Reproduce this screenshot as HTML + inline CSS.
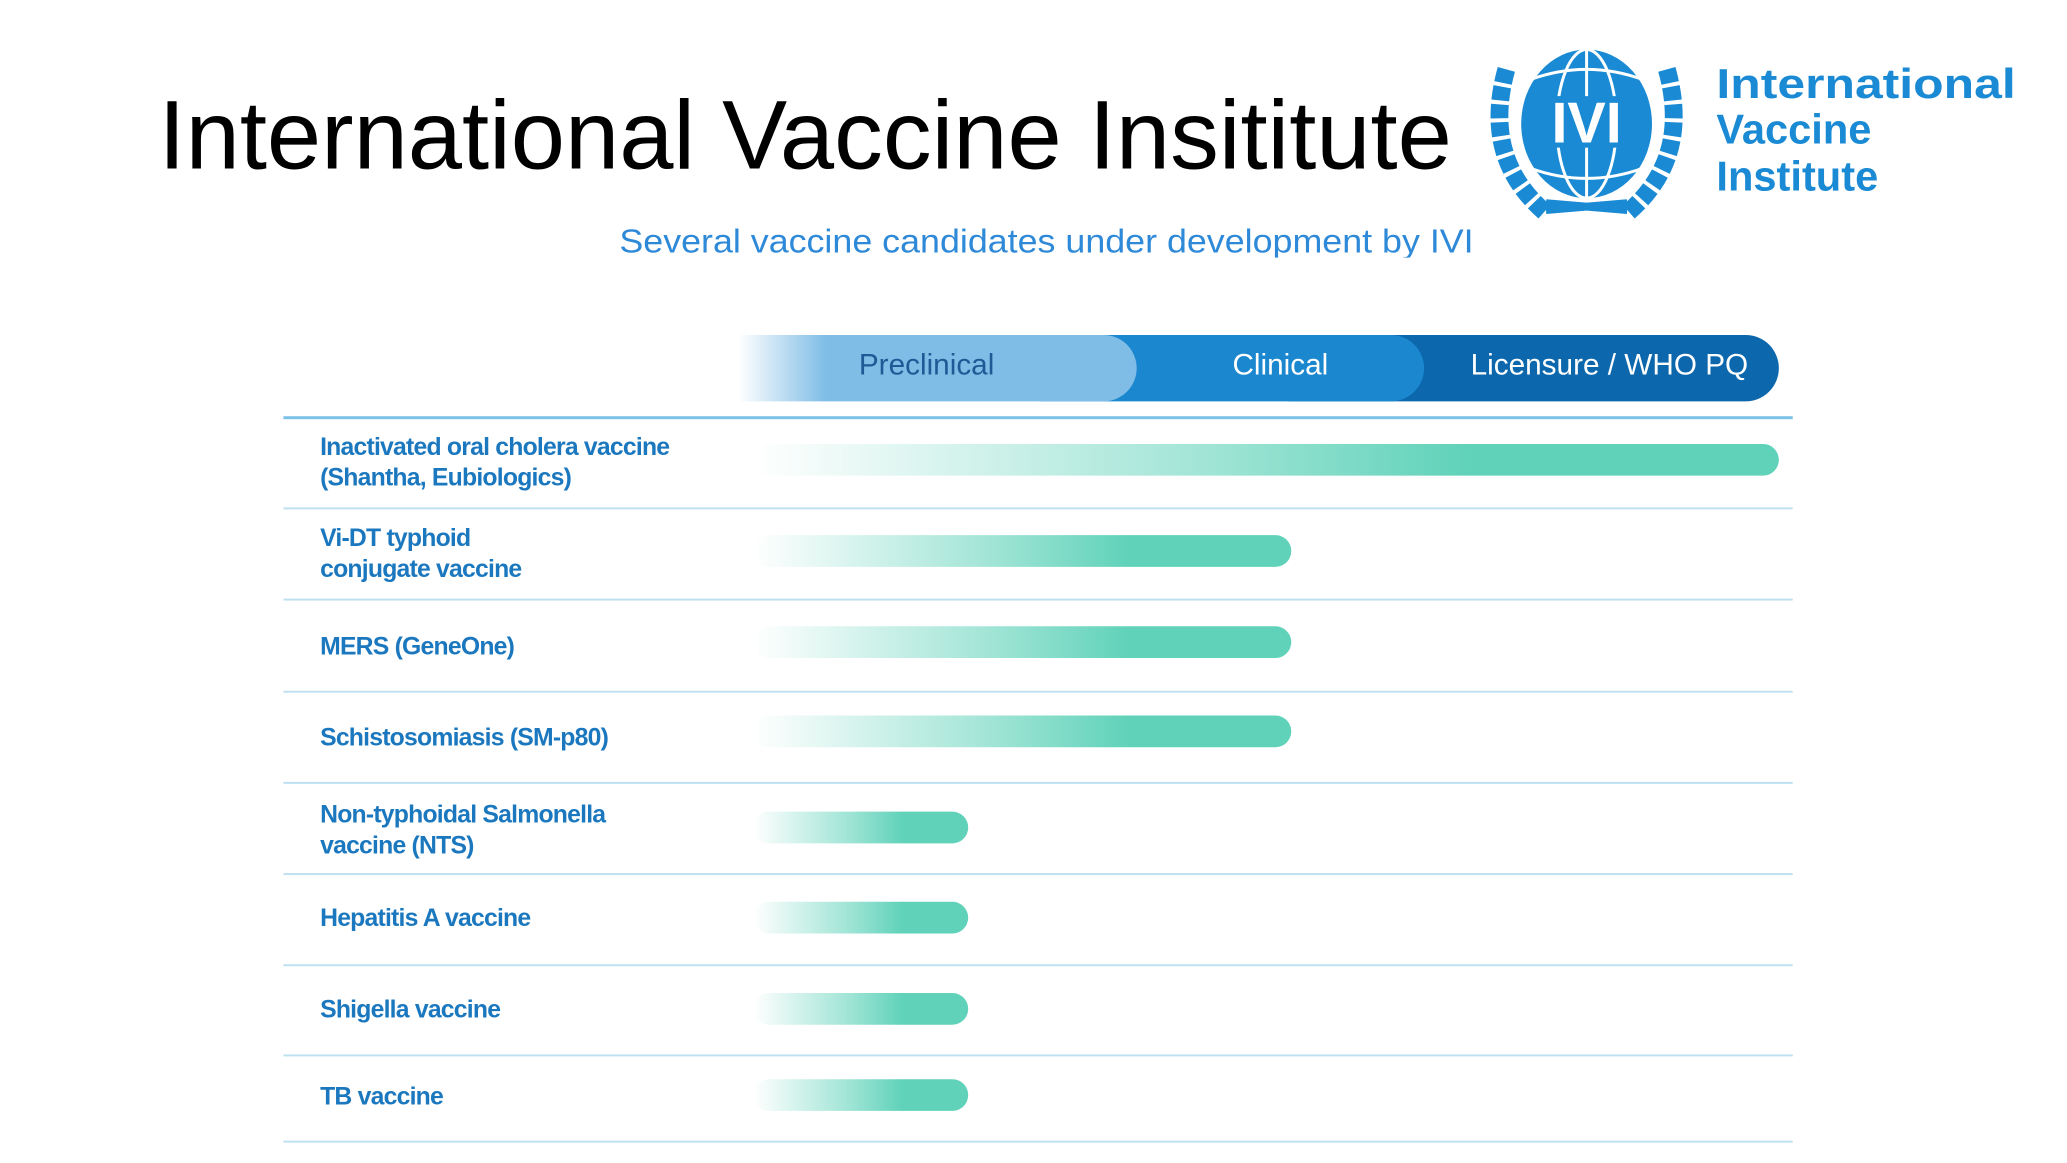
<!DOCTYPE html>
<html><head><meta charset="utf-8"><style>
body{margin:0;width:2067px;height:1163px;background:#fff;overflow:hidden;position:relative;font-family:"Liberation Sans",sans-serif}
#w{position:absolute;left:0;top:0;width:2067px;height:1163px;transform:scale(0.991);transform-origin:0 0}
.a{position:absolute}
.lbl{position:absolute;left:323px;color:#1b78bf;font-weight:bold;font-size:25px;line-height:31px;letter-spacing:-0.8px;transform:translateY(-50%)}
.ln{position:absolute;left:286px;width:1523px;height:2px;background:#bfe0f2}
.bar{position:absolute;left:760px;height:32px;border-radius:16px;background:linear-gradient(to right,rgba(95,210,185,0) 0%,rgba(95,210,185,0.6) 45%,#5fd2b9 70%,#5fd2b9 100%)}
</style></head><body><div id="w">
<svg class="a" style="left:0;top:0" width="2067" height="260">
<text x="160" y="170" font-family="Liberation Sans, sans-serif" font-size="98" textLength="1305" lengthAdjust="spacingAndGlyphs" fill="#000">International Vaccine Insititute</text>
<text x="1056" y="255" text-anchor="middle" font-family="Liberation Sans, sans-serif" font-size="34" textLength="862" lengthAdjust="spacingAndGlyphs" fill="#2e8ad8">Several vaccine candidates under development by IVI</text>
<g fill="none" stroke="#1a8ad4">
<ellipse cx="1601" cy="125" rx="66" ry="75" fill="#1a8ad4" stroke="none"/>
<path d="M1520 70 Q1495 160 1560 215 M1682 70 Q1707 160 1642 215" stroke-width="18" stroke-dasharray="14 4"/>
<path d="M1560 212 L1642 205 M1642 212 L1560 205" stroke-width="8"/>
<g stroke="#fff" stroke-width="3">
<ellipse cx="1601" cy="125" rx="30" ry="75"/>
<line x1="1601" y1="50" x2="1601" y2="200"/>
<path d="M1545 80 Q1601 60 1657 80 M1545 170 Q1601 190 1657 170"/>
</g></g>
<rect x="1548" y="97" width="106" height="52" fill="#1a8ad4"/>
<text x="1601" y="144" text-anchor="middle" font-family="Liberation Sans, sans-serif" font-weight="bold" font-size="58" fill="#fff">IVI</text>
<g font-family="Liberation Sans, sans-serif" font-weight="bold" font-size="42" fill="#1a8ad4">
<text x="1732" y="99" textLength="302" lengthAdjust="spacingAndGlyphs">International</text>
<text x="1732" y="145">Vaccine</text>
<text x="1732" y="192">Institute</text>
</g>
</svg>
<div class="a" style="left:1300px;top:338px;width:495px;height:67px;border-radius:0 34px 34px 0;background:#0d67ad"></div>
<div class="a" style="left:1050px;top:338px;width:387px;height:67px;border-radius:0 34px 34px 0;background:#1a87cf"></div>
<div class="a" style="left:745px;top:338px;width:402px;height:67px;border-radius:0 34px 34px 0;background:linear-gradient(to right,rgba(127,189,230,0),#7fbde6 22%)"></div>
<div class="a" style="left:855px;top:352px;width:160px;text-align:center;font-size:30px;color:#1f5a96">Preclinical</div>
<div class="a" style="left:1212px;top:352px;width:160px;text-align:center;font-size:30px;color:#fff">Clinical</div>
<div class="a" style="left:1464px;top:352px;width:320px;text-align:center;font-size:30px;color:#fff">Licensure / WHO PQ</div>
<div class="ln" style="top:420px;height:3px;background:#7cc1e8"></div>
<div class="ln" style="top:512px"></div><div class="ln" style="top:604px"></div><div class="ln" style="top:697px"></div><div class="ln" style="top:789px"></div><div class="ln" style="top:881px"></div><div class="ln" style="top:973px"></div><div class="ln" style="top:1064px"></div><div class="ln" style="top:1151px"></div>
<div class="bar" style="top:448px;width:1035px"></div>
<div class="bar" style="top:540px;width:543px"></div>
<div class="bar" style="top:632px;width:543px"></div>
<div class="bar" style="top:722px;width:543px"></div>
<div class="bar" style="top:819px;width:217px"></div>
<div class="bar" style="top:910px;width:217px"></div>
<div class="bar" style="top:1002px;width:217px"></div>
<div class="bar" style="top:1089px;width:217px"></div>
<div class="lbl" style="top:467px">Inactivated oral cholera vaccine<br>(Shantha, Eubiologics)</div>
<div class="lbl" style="top:559px">Vi-DT typhoid<br>conjugate vaccine</div>
<div class="lbl" style="top:653px">MERS (GeneOne)</div>
<div class="lbl" style="top:745px">Schistosomiasis (SM-p80)</div>
<div class="lbl" style="top:838px">Non-typhoidal Salmonella<br>vaccine (NTS)</div>
<div class="lbl" style="top:927px">Hepatitis A vaccine</div>
<div class="lbl" style="top:1019px">Shigella vaccine</div>
<div class="lbl" style="top:1107px">TB vaccine</div>
</div></body></html>
